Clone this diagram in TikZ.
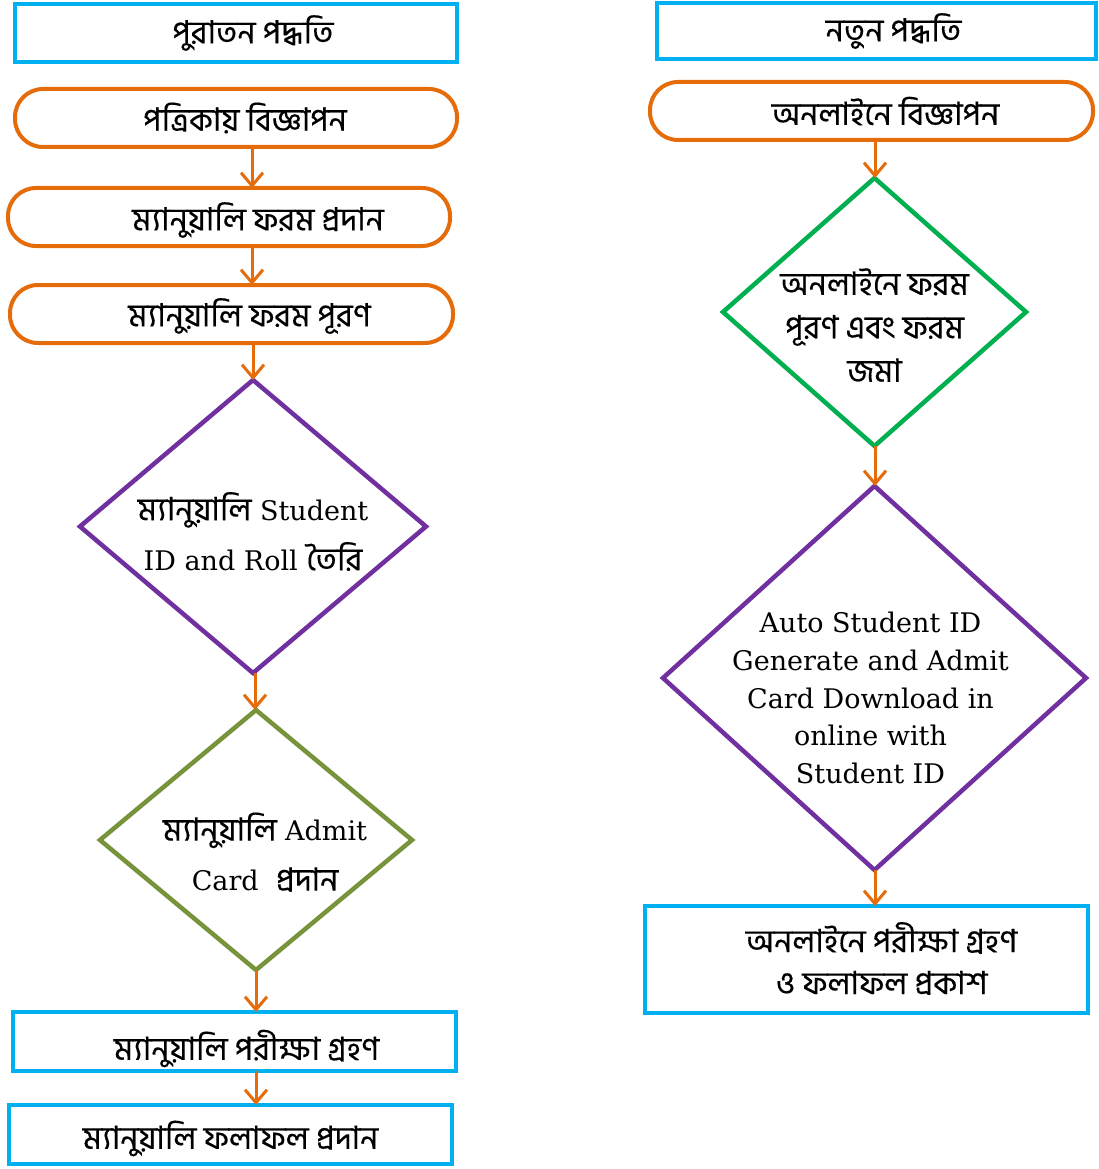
\documentclass[tikz,border=0pt]{standalone}
\usepackage{fontspec}
\setmainfont{DejaVu Serif}
\newfontfamily\bn[Script=Bengali, FakeBold=0.3]{Hind Siliguri}
\newcommand{\bnt}[1]{{\bn\fontsize{32}{50}\selectfont #1}}
\usetikzlibrary{shapes.geometric,arrows.meta}
\definecolor{cblue}{HTML}{00B0F0}
\definecolor{corange}{HTML}{E46C0A}
\definecolor{cpurple}{HTML}{7030A0}
\definecolor{colive}{HTML}{77933C}
\definecolor{cgreen}{HTML}{00B050}
\tikzset{
  base/.style={line width=4pt, inner sep=0pt, outer sep=0pt},
  bluebox/.style={base, draw=cblue, rectangle},
  pill/.style={base, draw=corange, rectangle, rounded corners=28pt},
  dia/.style={base, diamond, line width=4.5pt},
  btxt/.style={font=\bn\fontsize{32}{38}\selectfont, align=center, text=black},
  ltxt/.style={font=\fontsize{27}{50}\selectfont, align=center, text=black},
  arr/.style={draw=corange, line width=3pt, -{Straight Barb[length=13pt,width=22pt]}}
}
\begin{document}
\begin{tikzpicture}[x=1pt,y=-1pt]
\useasboundingbox (0,0) rectangle (1098,1169);
% left column
\node[bluebox, minimum width=442pt, minimum height=58pt,
  label={[btxt, xshift=17pt]center:পুরাতন পদ্ধতি}] (L0) at (236,33) {};
\node[pill, minimum width=442pt, minimum height=58pt,
  label={[btxt, xshift=9pt]center:পত্রিকায় বিজ্ঞাপন}] (L1) at (236,118) {};
\node[pill, minimum width=442pt, minimum height=58pt,
  label={[btxt, xshift=29pt, yshift=-3pt]center:ম্যানুয়ালি ফরম প্রদান}] (L2) at (229,217) {};
\node[pill, minimum width=443pt, minimum height=58pt,
  label={[btxt, xshift=18pt, yshift=-2pt]center:ম্যানুয়ালি ফরম পূরণ}] (L3) at (231.5,314) {};
\node[dia, draw=cpurple, minimum width=346pt, minimum height=293pt,
  label={[ltxt, yshift=-5pt]center:{\bnt{ম্যানুয়ালি} Student\\ID and Roll \bnt{তৈরি}}}] (L4) at (253,526.5) {};
\node[dia, draw=colive, minimum width=312pt, minimum height=260pt,
  label={[ltxt, xshift=9pt, yshift=-12pt]center:{\bnt{ম্যানুয়ালি} Admit\\Card \ \bnt{প্রদান}}}] (L5) at (256,840) {};
\node[bluebox, minimum width=443pt, minimum height=59pt,
  label={[btxt, xshift=12pt, yshift=-7pt]center:ম্যানুয়ালি পরীক্ষা গ্রহণ}] (L6) at (234.5,1041.5) {};
\node[bluebox, minimum width=443pt, minimum height=59pt,
  label={[btxt, yshift=-4pt]center:ম্যানুয়ালি ফলাফল প্রদান}] (L7) at (230.5,1134.5) {};
% right column
\node[bluebox, minimum width=439pt, minimum height=56pt,
  label={[btxt, xshift=17pt]center:নতুন পদ্ধতি}] (R0) at (876.5,31) {};
\node[pill, minimum width=443pt, minimum height=58pt,
  label={[btxt, xshift=14pt]center:অনলাইনে বিজ্ঞাপন}] (R1) at (871.5,111) {};
\node[dia, draw=cgreen, minimum width=303pt, minimum height=268pt,
  label={[btxt, yshift=-13pt, font=\bn\fontsize{32}{43.5}\selectfont]center:{অনলাইনে ফরম\\পূরণ এবং ফরম\\জমা}}] (R2) at (874.5,312) {};
\node[dia, draw=cpurple, minimum width=423pt, minimum height=384pt,
  label={[ltxt, xshift=-4pt, yshift=-20pt, font=\fontsize{27}{37.7}\selectfont]center:{Auto Student ID\\Generate and Admit\\Card Download in\\online with\\Student ID}}] (R3) at (874.5,678) {};
\node[bluebox, minimum width=443pt, minimum height=107pt,
  label={[btxt, xshift=15pt, yshift=1pt, font=\bn\fontsize{32}{42}\selectfont]center:{অনলাইনে পরীক্ষা গ্রহণ\\ও ফলাফল প্রকাশ}}] (R4) at (866.5,959.5) {};
% arrow axes
\coordinate (xa) at (252,0);
\coordinate (xb) at (253,0);
\coordinate (xc) at (255,0);
\coordinate (xd) at (256,0);
\coordinate (xr) at (875,0);
% arrows
\draw[arr] (L1.south -| xa) -- (L2.north -| xa);
\draw[arr] (L2.south -| xa) -- (L3.north -| xa);
\draw[arr] (L3.south -| xb) -- (L4.north);
\draw[arr] (L4.south -| xc) -- (L5.north -| xc);
\draw[arr] (L5.south) -- (L6.north -| xd);
\draw[arr] (L6.south -| xd) -- (L7.north -| xd);
\draw[arr] (R1.south -| xr) -- (R2.north -| xr);
\draw[arr] (R2.south -| xr) -- (R3.north -| xr);
\draw[arr] (R3.south -| xr) -- (R4.north -| xr);
\end{tikzpicture}
\end{document}
